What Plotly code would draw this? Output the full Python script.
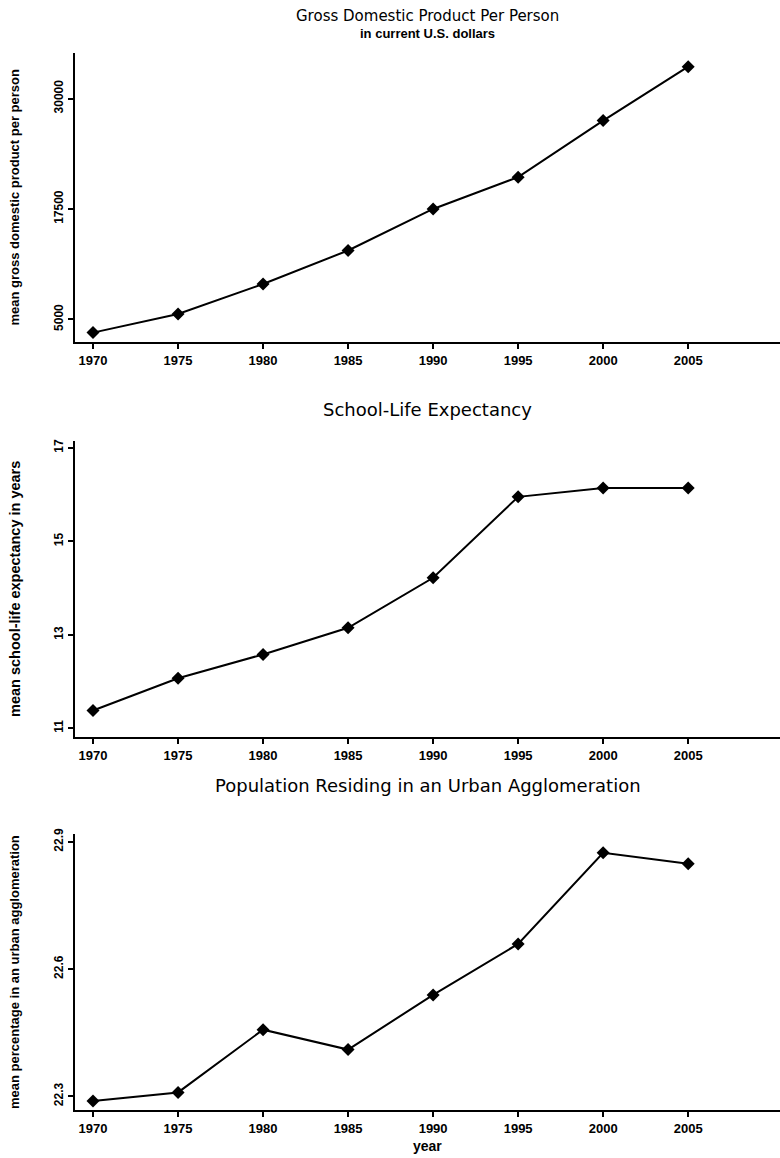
import plotly.graph_objects as go

years = [1970, 1975, 1980, 1985, 1990, 1995, 2000, 2005]
gdp = [3500, 5600, 9000, 12800, 17500, 21100, 27500, 33600]
school = [11.38, 12.07, 12.58, 13.15, 14.22, 15.95, 16.14, 16.14]
urban = [22.289, 22.309, 22.457, 22.41, 22.539, 22.659, 22.874, 22.848]

gdp_ticks = [5000, 17500, 30000]
school_ticks = [11, 13, 15, 17]
urban_ticks = [22.3, 22.6, 22.9]
urban_ticktext = ["22.3", "22.6", "22.9"]

titles = ["Gross Domestic Product Per Person", "School-Life Expectancy",
          "Population Residing in an Urban Agglomeration"]
subtitle = "in current U.S. dollars"
ytitles = ["mean gross domestic product per person",
           "mean school-life expectancy in years",
           "mean percentage in an urban agglomeration"]
xtitle = "year"

W, H = 780, 1158
FONT = "Liberation Sans"
TFONT = "DejaVu Sans"

def py(p):
    return 1 - p / H

def px(p):
    return p / W

panels = [  # (top px, bottom px)
    (47, 338),
    (437, 735),
    (832, 1110),
]
xleft = px(75)

fig = go.Figure()
series = [gdp, school, urban]
for i, s in enumerate(series):
    sfx = "" if i == 0 else str(i + 1)
    fig.add_trace(go.Scatter(
        x=years, y=s, mode="lines+markers",
        line=dict(color="black", width=2),
        marker=dict(symbol="diamond", size=10, color="black"),
        xaxis="x" + sfx, yaxis="y" + sfx, showlegend=False,
    ))

xr = [1968.94, 2010.4]
yranges = [[2410, 35180], [10.81, 17.15], [22.267, 22.919]]
yticks = [(gdp_ticks, [str(v) for v in gdp_ticks]),
          (school_ticks, [str(v) for v in school_ticks]),
          (urban_ticks, urban_ticktext)]

layout = dict(
    width=W, height=H,
    margin=dict(l=0, r=0, t=0, b=0),
    paper_bgcolor="white", plot_bgcolor="white",
    font=dict(family=FONT, color="black"),
)
for i, (top, bot) in enumerate(panels):
    sfx = "" if i == 0 else str(i + 1)
    layout["xaxis" + sfx] = dict(
        domain=[xleft, 1], range=xr, anchor="y" + sfx,
        tickvals=years, ticktext=[str(y) for y in years],
        showgrid=False, zeroline=False, showline=True,
        linecolor="black", linewidth=2, ticks="outside", ticklen=5,
        tickwidth=1.5, tickcolor="black",
        tickfont=dict(size=13, family=FONT, color="black", weight="bold"),
    )
    layout["yaxis" + sfx] = dict(
        domain=[py(bot), py(top)], range=yranges[i], anchor="x" + sfx,
        tickvals=yticks[i][0], ticktext=yticks[i][1], tickangle=-90,
        showgrid=False, zeroline=False, showline=True,
        linecolor="black", linewidth=2, ticks="outside", ticklen=5,
        tickwidth=1.5, tickcolor="black",
        tickfont=dict(size=12, family=FONT, color="black", weight="bold"),
    )
fig.update_layout(**layout)

cx = px((75 + 780) / 2)
ann = []
title_y = [10, 406, 784]
title_size = [15, 18, 18]
for i, t in enumerate(titles):
    ann.append(dict(text=t, x=cx, y=py(title_y[i]), xref="paper", yref="paper",
                    showarrow=False, xanchor="center", yanchor="middle", borderpad=0,
                    font=dict(size=title_size[i], family=TFONT, color="black")))
ann.append(dict(text=subtitle, x=cx, y=py(28), xref="paper", yref="paper",
                showarrow=False, xanchor="center", yanchor="middle", borderpad=0,
                font=dict(size=13, family=FONT, color="black", weight="bold")))
ysize = [13, 14.5, 13]
for i, (top, bot) in enumerate(panels):
    ann.append(dict(text=ytitles[i], x=px(15), y=py((top + bot) / 2),
                    xref="paper", yref="paper", showarrow=False, textangle=-90,
                    xanchor="center", yanchor="middle",
                    font=dict(size=ysize[i], family=FONT, color="black", weight="bold")))
ann.append(dict(text=xtitle, x=cx, y=py(1146), xref="paper", yref="paper",
                showarrow=False, xanchor="center", yanchor="middle",
                font=dict(size=14, family=FONT, color="black", weight="bold")))
fig.update_layout(annotations=ann)

fig.write_html("out.html", config={"displayModeBar": False},
               post_script="document.body.style.margin='0';document.body.style.overflow='hidden';")
